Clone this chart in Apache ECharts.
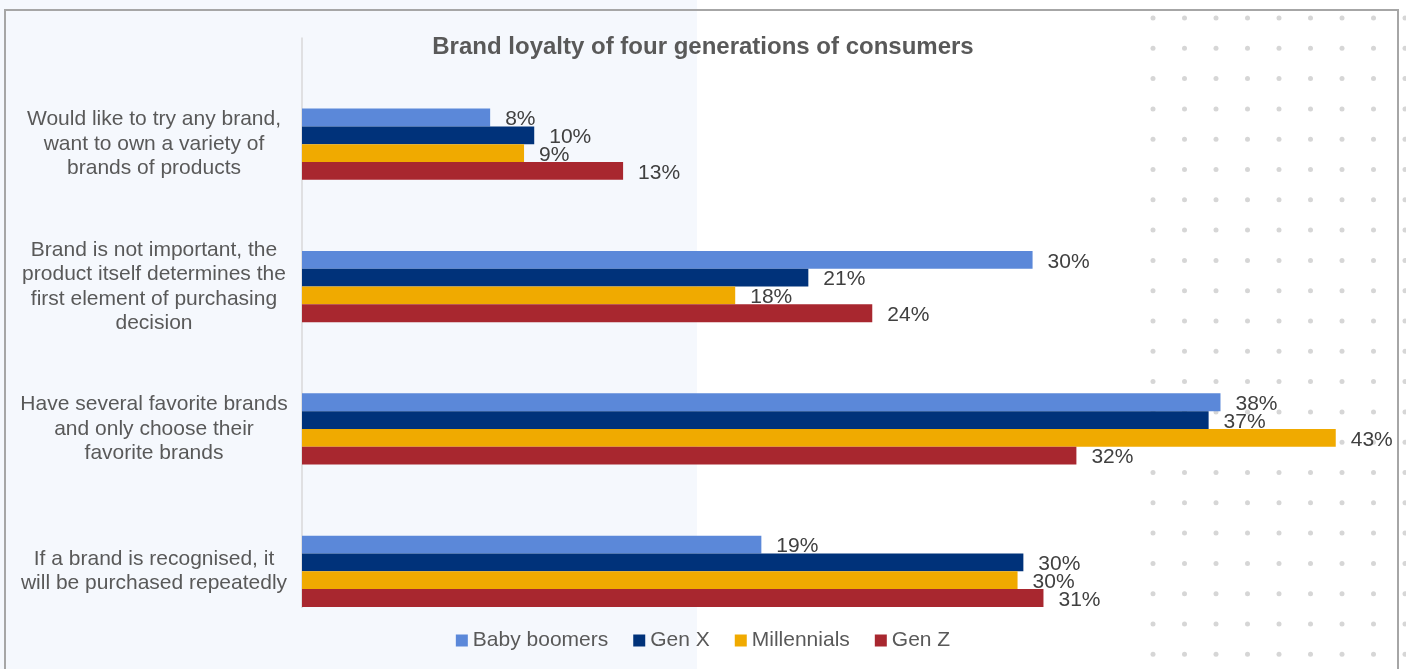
<!DOCTYPE html>
<html>
<head>
<meta charset="utf-8">
<script src="https://cdn.jsdelivr.net/npm/echarts@6/dist/echarts.min.js"></script>
<style>
html,body{margin:0;padding:0;background:#ffffff;}
#chart{width:1406px;height:669px;}
</style>
</head>
<body>
<div id="chart"></div>
<script>
const titleText = 'Brand loyalty of four generations of consumers';
const categories = [
  'Would like to try any brand,\nwant to own a variety of\nbrands of products',
  'Brand is not important, the\nproduct itself determines the\nfirst element of purchasing\ndecision',
  'Have several favorite brands\nand only choose their\nfavorite brands',
  'If a brand is recognised, it\nwill be purchased repeatedly'
];
const seriesNames = ['Baby boomers', 'Gen X', 'Millennials', 'Gen Z'];
const babyBoomers = [7.77, 30.17, 37.93, 18.97];
const genX = [9.59, 20.91, 37.44, 29.79];
const millennials = [9.17, 17.89, 42.69, 29.55];
const genZ = [13.26, 23.55, 31.98, 30.62];
const colors = ['#5B88D9', '#00327A', '#F0AA00', '#A8272F'];

const seriesValues = [babyBoomers, genX, millennials, genZ];

// decorative background: light blue left panel, dot pattern, frame
const graphics = [];
graphics.push({type:'rect', z:-10, shape:{x:0, y:0, width:697, height:669}, style:{fill:'#F5F8FD'}});
for (let r = 0; r < 22; r++) {
  for (let c = 0; c < 9; c++) {
    graphics.push({type:'circle', z:-9, silent:true,
      shape:{cx:1153 + c*31.5, cy:18 + r*30.3, r:2.5}, style:{fill:'#D6D6D6'}});
  }
}
graphics.push({type:'rect', z:-8, shape:{x:5, y:10, width:1393, height:700},
  style:{fill:'none', stroke:'#A6A6A6', lineWidth:2}});

const FONT = 'Liberation Sans, Arial, sans-serif';
const chart = echarts.init(document.getElementById('chart'), null, {renderer:'canvas'});
chart.setOption({
  backgroundColor: '#ffffff',
  animation: false,
  graphic: {elements: graphics},
  title: {
    text: titleText, left: 'center', top: 30,
    textStyle: {fontFamily: FONT, fontSize: 24, fontWeight:'bold', color:'#595959'}
  },
  legend: {
    data: seriesNames, left: 'center', top: 625,
    itemWidth: 12, itemHeight: 12, itemGap: 25, icon: 'rect',
    textStyle: {fontFamily: FONT, fontSize: 21, color:'#595959'}
  },
  grid: [
    {left: 302, right: 24, top: 73, height: 569.5, containLabel: false},
    {left: 302, right: 24, top: 38, height: 569.5, containLabel: false}
  ],
  xAxis: [
    {type:'value', gridIndex:0, min:0, max:44.6, show:false},
    {type:'value', gridIndex:1, min:0, max:44.6, show:false}
  ],
  yAxis: [
    {type:'category', gridIndex:0, data: categories, inverse: true,
     axisLine:{show:false}, axisTick:{show:false},
     axisLabel:{margin:148, align:'center', lineHeight:24.5,
       fontFamily: FONT, fontSize:21, color:'#595959'}},
    {type:'value', gridIndex:1, min:0, max:1, position:'left',
     axisLine:{show:true, lineStyle:{color:'#D9D9D9', width:1.5}},
     axisTick:{show:false}, axisLabel:{show:false}, splitLine:{show:false}}
  ],
  series: seriesNames.map((name, i) => ({
    name: name, type: 'bar', xAxisIndex:0, yAxisIndex:0,
    data: seriesValues[i],
    barGap: '0%', barCategoryGap: '50%',
    itemStyle: {color: colors[i]},
    label: {show:true, position:'right', distance:15, offset:[0,2],
      formatter: p => Math.round(p.value) + '%',
      fontFamily: FONT, fontSize:21, color:'#404040'}
  }))
});
</script>
</body>
</html>
